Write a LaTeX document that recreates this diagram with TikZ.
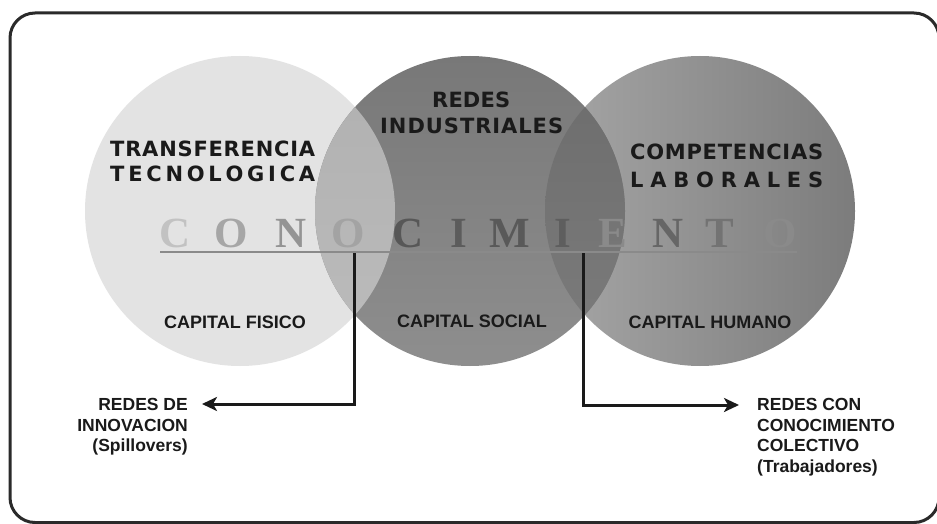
\documentclass[tikz,border=0pt]{standalone}
\usepackage{fontspec}
\usetikzlibrary{arrows.meta}
\newfontfamily\headfont{DejaVu Sans}
\newfontfamily\labfont{Liberation Sans}
\newfontfamily\bigserif{Liberation Serif}
\definecolor{inkc}{HTML}{1A1A1A}
\definecolor{framec}{HTML}{2A2A2A}
\definecolor{circL}{HTML}{E3E3E3}
\definecolor{circMtop}{HTML}{787878}
\definecolor{circMbot}{HTML}{8E8E8E}
\definecolor{circRl}{HTML}{A6A6A6}
\definecolor{circRr}{HTML}{7C7C7C}
\definecolor{ovLMtop}{HTML}{B0B0B0}
\definecolor{ovLMbot}{HTML}{BCBCBC}
\definecolor{ovMRtop}{HTML}{6C6C6C}
\definecolor{ovMRbot}{HTML}{7C7C7C}
\definecolor{rulec}{HTML}{8A8A8A}
\definecolor{linec}{HTML}{1A1A1A}
\tikzset{
  heading/.style={font=\headfont\bfseries\fontsize{21}{25}\selectfont, text=inkc, inner sep=0pt, anchor=base west},
  caplabel/.style={font=\labfont\bfseries\fontsize{18}{21}\selectfont, text=inkc, inner sep=0pt, anchor=base},
  sidelabel/.style={font=\labfont\bfseries\fontsize{17.5}{20.6}\selectfont, text=inkc, inner sep=0pt},
  bigletter/.style={font=\bigserif\bfseries\fontsize{43}{43}\selectfont, inner sep=0pt, anchor=base},
  connector/.style={line width=3pt, draw=linec, -{Stealth[length=15pt,width=14pt,inset=4pt]}},
}
\newcommand\spreadto[2]{\makebox[#1][s]{#2}}
\begin{document}
\begin{tikzpicture}[x=1pt,y=-1pt]
\useasboundingbox (0,0) rectangle (937,524);
\clip (0,0) rectangle (937,524);
\fill[white] (0,0) rectangle (937,524);
% frame
\draw[line width=3pt, framec, rounded corners=25pt] (10,13) rectangle (939,522.5);
% circles
\coordinate (cL) at (240,211);
\coordinate (cM) at (470,211);
\coordinate (cR) at (700,211);
\fill[circL] (cL) circle[radius=155pt];
\shade[left color=circRl, right color=circRr] (cR) circle[radius=155pt];
\shade[top color=circMtop, bottom color=circMbot] (cM) circle[radius=155pt];
\begin{scope}
  \clip (cL) circle[radius=155pt];
  \shade[top color=ovLMtop, bottom color=ovLMbot] (cM) circle[radius=155pt];
\end{scope}
\begin{scope}
  \clip (cR) circle[radius=155pt];
  \shade[top color=ovMRtop, bottom color=ovMRbot] (cM) circle[radius=155pt];
\end{scope}
% headings
\node[heading] (tr1) at (110,157) {\spreadto{205pt}{T\hfill R\hfill A\hfill N\hfill S\hfill F\hfill E\hfill R\hfill E\hfill N\hfill C\hfill I\hfill A}};
\node[heading] (tr2) at (110,182) {\spreadto{205pt}{T\hfill E\hfill C\hfill N\hfill O\hfill L\hfill O\hfill G\hfill I\hfill C\hfill A}};
\node[heading] (re1) at (432,108) {\spreadto{78pt}{R\hfill E\hfill D\hfill E\hfill S}};
\node[heading] (re2) at (380,134) {\spreadto{183pt}{I\hfill N\hfill D\hfill U\hfill S\hfill T\hfill R\hfill I\hfill A\hfill L\hfill E\hfill S}};
\node[heading] (co1) at (630,160) {\spreadto{193pt}{C\hfill O\hfill M\hfill P\hfill E\hfill T\hfill E\hfill N\hfill C\hfill I\hfill A\hfill S}};
\node[heading] (co2) at (630,187) {\spreadto{193pt}{L\hfill A\hfill B\hfill O\hfill R\hfill A\hfill L\hfill E\hfill S}};
% capital labels
\node[caplabel] (kf) at (235,328) {CAPITAL FISICO};
\node[caplabel] (ks) at (472,327) {CAPITAL SOCIAL};
\node[caplabel] (kh) at (710,328) {CAPITAL HUMANO};
% CONOCIMIENTO
\foreach \ch/\xx/\gr [count=\i] in {C/175/24, O/231/35, N/291/42, O/348/36, C/408/66, I/459/64, M/510/65, I/563/63, E/613/46, N/668/60, T/720/55, O/780/46}
  \node[bigletter, text=black!\gr] (w\i) at (\xx,247) {\ch};
\coordinate (ulA) at (160,252);
\coordinate (ulB) at (797,252);
\draw[line width=2pt, rulec] (ulA) -- (ulB);
% side labels
\node[sidelabel, align=right, anchor=north east] (innov) at (188,398) {REDES DE\\INNOVACION\\(Spillovers)};
\node[sidelabel, align=left, anchor=north west] (colect) at (757,398) {REDES CON\\CONOCIMIENTO\\COLECTIVO\\(Trabajadores)};
% connectors
\coordinate (lstart) at (354,253);
\coordinate (ltip) at (202,404);
\coordinate (rstart) at (583,253);
\coordinate (rtip) at (739,405);
\draw[connector] (lstart) |- (ltip);
\draw[connector] (rstart) |- (rtip);
\end{tikzpicture}
\end{document}
